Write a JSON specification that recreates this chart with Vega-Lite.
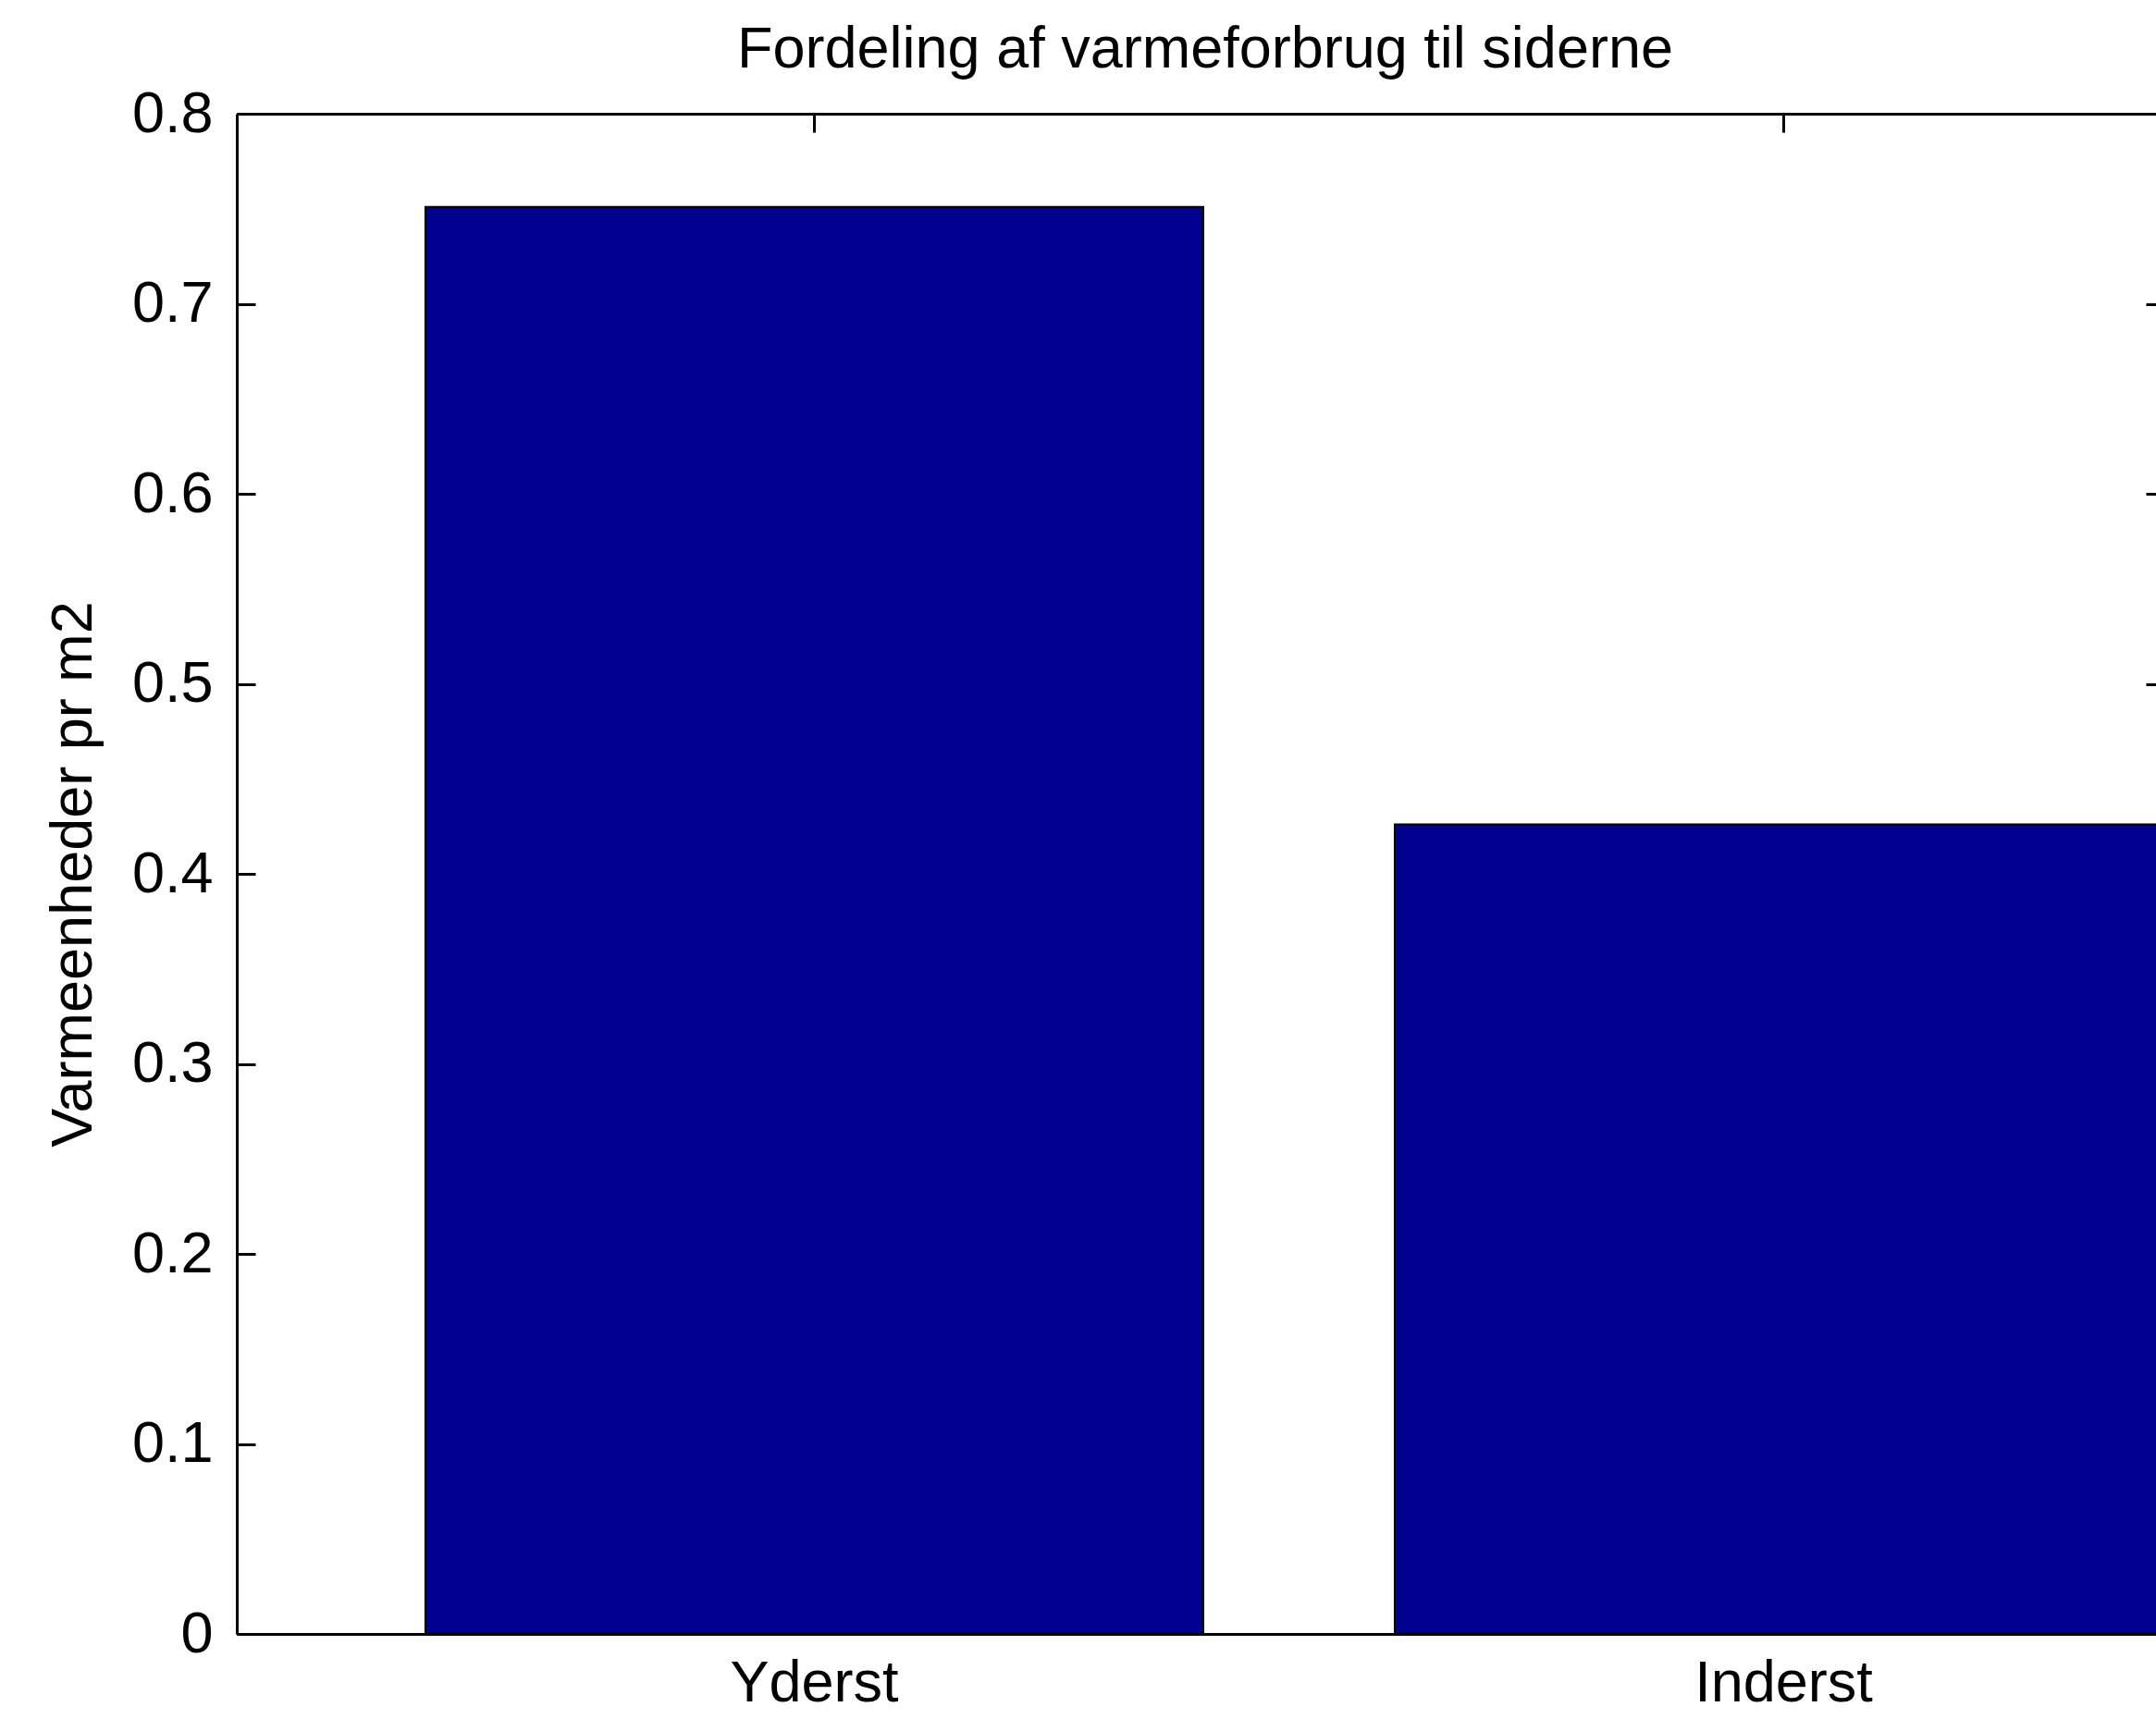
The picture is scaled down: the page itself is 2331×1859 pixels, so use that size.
{
  "$schema": "https://vega.github.io/schema/vega-lite/v6.json",
  "width": 2093,
  "height": 1644,
  "autosize": {"type": "none"},
  "padding": {"left": 256, "top": 123, "right": 0, "bottom": 92},
  "background": "white",
  "data": {"values": [
    {"side": "Yderst", "value": 0.751},
    {"side": "Inderst", "value": 0.426}
  ]},
  "layer": [
    {
      "mark": {"type": "bar", "color": "#00008F", "stroke": "black", "strokeWidth": 2},
      "encoding": {
        "x": {
          "field": "side", "type": "nominal", "sort": null,
          "scale": {"type": "band", "paddingInner": 0.1975, "paddingOuter": 0.0973, "align": 1},
          "axis": {"orient": "bottom", "title": null, "ticks": false, "labelAngle": 0, "labelPadding": 22, "labelLimit": 0, "domain": true, "domainColor": "black", "domainWidth": 3, "labelBaseline": "top"}
        },
        "y": {
          "field": "value", "type": "quantitative",
          "scale": {"domain": [0, 0.8], "nice": false, "zero": true},
          "axis": {"orient": "left", "title": "Varmeenheder pr m2", "values": [0, 0.1, 0.2, 0.3, 0.4, 0.5, 0.6, 0.7, 0.8], "format": ".1~f", "tickSize": -20, "labelPadding": 46, "titlePadding": 31, "domain": true, "domainColor": "black", "domainWidth": 3}
        }
      }
    },
    {
      "mark": {"type": "bar", "opacity": 0},
      "encoding": {
        "x": {
          "field": "side", "type": "nominal", "sort": null,
          "axis": {"orient": "top", "title": "Fordeling af varmeforbrug til siderne", "titleBaseline": "alphabetic", "titlePadding": 49, "titleAnchor": "middle", "labels": false, "tickSize": -20, "domain": true, "domainColor": "black", "domainWidth": 3}
        },
        "y": {
          "field": "value", "type": "quantitative",
          "axis": {"orient": "right", "title": null, "labels": false, "values": [0, 0.1, 0.2, 0.3, 0.4, 0.5, 0.6, 0.7, 0.8], "tickSize": -29, "domain": false}
        }
      }
    }
  ],
  "resolve": {"axis": {"x": "independent", "y": "independent"}},
  "config": {
    "view": {"stroke": null},
    "axis": {
      "grid": false,
      "labelFont": "Liberation Sans, sans-serif",
      "labelFontSize": 63,
      "labelColor": "black",
      "titleFont": "Liberation Sans, sans-serif",
      "titleFontSize": 63,
      "titleFontWeight": "normal",
      "titleColor": "black",
      "tickColor": "black",
      "tickWidth": 3
    }
  }
}
